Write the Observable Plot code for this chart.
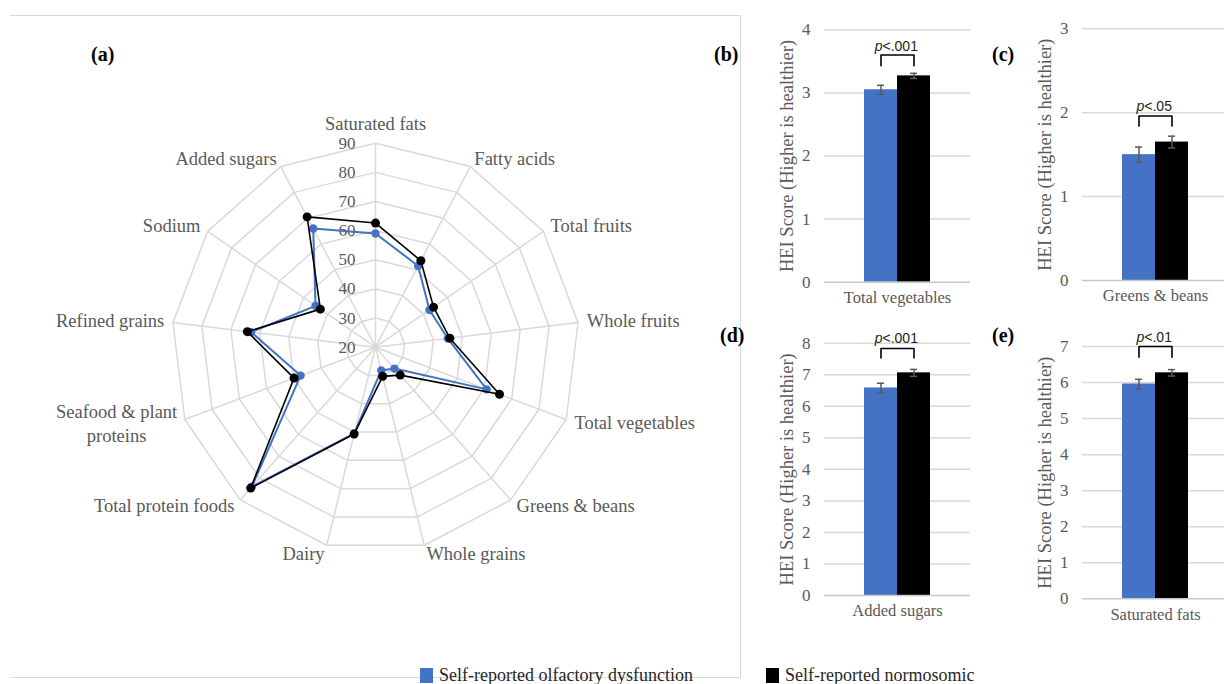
<!DOCTYPE html>
<html>
<head>
<meta charset="utf-8">
<script src="https://cdn.jsdelivr.net/npm/d3@7"></script>
<script src="https://cdn.jsdelivr.net/npm/@observablehq/plot@0.6"></script>
<style>
  html, body { margin: 0; padding: 0; background: #fff; overflow: hidden; }
  #root { position: relative; width: 1224px; height: 684px; overflow: hidden; font-family: "Liberation Serif", serif; }
  .abs { position: absolute; }
  .plabel { position: absolute; font-family: "Liberation Serif", serif; font-weight: bold; font-size: 20px; color: #000; line-height: 24px; }
  .legend { position: absolute; top: 664px; font-family: "Liberation Serif", serif; font-size: 18px; color: #262626; display: flex; align-items: center; white-space: nowrap; line-height: 22px; }
  .sw { display: inline-block; width: 13px; height: 15px; margin-right: 6px; }
  .frame { position: absolute; background: #d9d9d9; }
</style>
</head>
<body>
<div id="root"></div>
<script>
// ---------- Data ----------
const categories = ["Saturated fats", "Fatty acids", "Total fruits", "Whole fruits", "Total vegetables",
  "Greens & beans", "Whole grains", "Dairy", "Total protein foods", "Seafood & plant proteins",
  "Refined grains", "Sodium", "Added sugars"];
const dysfunctionScores = [59, 51.5, 42.5, 45, 60.8, 29.8, 28.2, 50.5, 84, 47.5, 63, 45, 66];
const normosomicScores  = [62.6, 53.5, 44.2, 45.7, 65.5, 32.8, 30.3, 50.7, 84.6, 49.9, 64.3, 43, 70.5];
const radarTicks = [20, 30, 40, 50, 60, 70, 80, 90];

const groups = ["Self-reported olfactory dysfunction", "Self-reported normosomic"];
const groupColors = ["#4472C4", "#000000"];

const barCategories = ["Total vegetables", "Greens & beans", "Added sugars", "Saturated fats"];
const barDysfunction = [3.05, 1.50, 6.58, 5.96];
const barNormosomic  = [3.27, 1.65, 7.06, 6.27];
const errDysfunction = [0.07, 0.09, 0.15, 0.13];
const errNormosomic  = [0.04, 0.07, 0.11, 0.09];
const barYMax = [4, 3, 8, 7];
const pLabels = ["<.001", "<.05", "<.001", "<.01"];
const bracketTop = [3.6, 1.96, 7.83, 7.0];
const bracketBottom = [3.43, 1.84, 7.53, 6.70];
const pTextY = [3.74, 2.07, 8.16, 7.26];
const panelLetters = ["(b)", "(c)", "(d)", "(e)"];
const yTitle = "HEI Score (Higher is healthier)";

const root = document.getElementById("root");
const GRAY = "#595959";
const GRID = "#d9d9d9";

// ---------- Frame lines of panel (a) ----------
function frameLine(l, t, w, h) {
  const d = document.createElement("div");
  d.className = "frame";
  Object.assign(d.style, {left: l + "px", top: t + "px", width: w + "px", height: h + "px"});
  root.appendChild(d);
}
frameLine(10, 15, 731, 1);
frameLine(740, 15, 1, 663);
frameLine(10, 677, 731, 1);

// ---------- Radar (a) ----------
const N = categories.length;
const k = 2.914; // px per unit
const cx = 375, cy = 346.7, RW = 740, RH = 640;
const ang = i => i * 2 * Math.PI / N;
const px = (v, i) => (v - 20) * Math.sin(ang(i));
const py = (v, i) => (v - 20) * Math.cos(ang(i));

const rings = [];
for (const t of radarTicks.slice(1)) {
  for (let i = 0; i <= N; i++) rings.push({t, x: px(t, i % N), y: py(t, i % N)});
}
const spokes = categories.map((c, i) => ({x2: px(90, i), y2: py(90, i)}));
const seriesPts = (vals, g) => vals.map((v, i) => ({g, cat: categories[i], x: px(v, i), y: py(v, i)}));
const bluePts = seriesPts(dysfunctionScores, groups[0]);
const blackPts = seriesPts(normosomicScores, groups[1]);
const labelR = 93;
const labels = categories.map((c, i) => ({
  text: c === "Seafood & plant proteins" ? "Seafood & plant\nproteins" : c,
  i, x: px(labelR, i), y: py(labelR, i)
}));

const radar = Plot.plot({
  width: RW, height: RH,
  marginTop: 0, marginRight: 0, marginBottom: 0, marginLeft: 0,
  x: {domain: [-cx / k, (RW - cx) / k], range: [0, RW], axis: null},
  y: {domain: [-(RH - cy) / k, cy / k], range: [RH, 0], axis: null},
  style: {fontFamily: "Liberation Serif, serif", fontSize: "18.5px", color: GRAY, background: "transparent", overflow: "visible"},
  marks: [
    Plot.line(rings, {x: "x", y: "y", z: "t", stroke: GRID, strokeWidth: 1.5}),
    Plot.link(spokes, {x1: 0, y1: 0, x2: "x2", y2: "y2", stroke: GRID, strokeWidth: 1.5}),
    Plot.text(radarTicks, {x: 0, y: d => d - 20, text: d => String(d), textAnchor: "end", dx: -20, fill: GRAY, fontSize: 17}),
    Plot.text(labels.filter(d => d.i === 0), {x: "x", y: "y", text: "text", textAnchor: "middle", lineAnchor: "bottom", dy: -4, fill: GRAY}),
    Plot.text(labels.filter(d => d.i > 0 && d.i < N / 2), {x: "x", y: "y", text: "text", textAnchor: "start", fill: GRAY}),
    Plot.text(labels.filter(d => d.i > N / 2 && d.text.indexOf("\n") < 0), {x: "x", y: "y", text: "text", textAnchor: "end", fill: GRAY}),
    Plot.text(labels.filter(d => d.text.indexOf("\n") >= 0), {x: "x", y: "y", text: "text", textAnchor: "middle", dx: -60, lineHeight: 1.25, fill: GRAY}),
    Plot.line(bluePts, {x: "x", y: "y", stroke: groupColors[0], strokeWidth: 2, curve: "linear-closed"}),
    Plot.dot(bluePts, {x: "x", y: "y", r: 4.2, fill: groupColors[0]}),
    Plot.line(blackPts, {x: "x", y: "y", stroke: groupColors[1], strokeWidth: 1.6, curve: "linear-closed"}),
    Plot.dot(blackPts, {x: "x", y: "y", r: 4.5, fill: groupColors[1]})
  ]
});
radar.classList.add("abs");
radar.style.left = "0px";
radar.style.top = "0px";
root.appendChild(radar);

// ---------- Bar panels (b)-(e) ----------
const panelPos = [
  {left: 745, top: 0, height: 320, mt: 29.3, mb: 38.3},
  {left: 1003, top: 0, height: 320, mt: 28.3, mb: 40},
  {left: 745, top: 320, height: 310, mt: 22.7, mb: 35},
  {left: 1003, top: 320, height: 310, mt: 26, mb: 31.7}
];
const letterPos = [
  {left: 714, top: 42}, {left: 992, top: 42}, {left: 720, top: 323}, {left: 992, top: 323}
];

barCategories.forEach((cat, p) => {
  const data = [
    {cat, g: groups[0], v: barDysfunction[p], e: errDysfunction[p]},
    {cat, g: groups[1], v: barNormosomic[p], e: errNormosomic[p]}
  ];
  const bracket = [
    {cat, g: groups[0], y: bracketBottom[p]},
    {cat, g: groups[0], y: bracketTop[p]},
    {cat, g: groups[1], y: bracketTop[p]},
    {cat, g: groups[1], y: bracketBottom[p]}
  ];
  const pos = panelPos[p];
  const W = 230;
  const tickVals = d3.range(0, barYMax[p] + 1);
  const pdx = -(pLabels[p].length * 7.6 + 8) / 2 + 8;
  const chart = Plot.plot({
    width: W, height: pos.height,
    marginLeft: 79, marginRight: 5, marginTop: pos.mt, marginBottom: pos.mb,
    style: {fontFamily: "Liberation Serif, serif", fontSize: "17px", color: GRAY, background: "transparent", overflow: "visible"},
    fx: {domain: [cat], padding: 0, label: null},
    x: {domain: groups, paddingInner: 0, paddingOuter: 1.18, axis: null},
    y: {domain: [0, barYMax[p]], label: null},
    color: {domain: groups, range: groupColors},
    marks: [
      Plot.gridY(tickVals.slice(1), {stroke: GRID, strokeOpacity: 1, strokeWidth: 1.5}),
      Plot.axisY(tickVals, {tickSize: 0, tickPadding: 14, label: null, fill: GRAY, tickFormat: d => String(d)}),
      Plot.axisFx({anchor: "bottom", tickSize: 0, tickPadding: 9, label: null, fill: GRAY, fontSize: 16.5}),
      Plot.barY(data, {fx: "cat", x: "g", y: "v", fill: "g"}),
      Plot.ruleY([0], {stroke: "#c8c8c8", strokeWidth: 1.5}),
      Plot.ruleX(data, {fx: "cat", x: "g", y1: d => d.v - d.e, y2: d => d.v + d.e, stroke: GRAY, strokeWidth: 1.5}),
      Plot.tickY(data, {fx: "cat", x: "g", y: d => d.v - d.e, stroke: GRAY, strokeWidth: 1.5, insetLeft: 13, insetRight: 13}),
      Plot.tickY(data, {fx: "cat", x: "g", y: d => d.v + d.e, stroke: GRAY, strokeWidth: 1.5, insetLeft: 13, insetRight: 13}),
      Plot.line(bracket, {fx: "cat", x: "g", y: "y", stroke: "#000", strokeWidth: 1.6}),
      Plot.text([cat], {fx: d => d, y: pTextY[p], text: () => "p", textAnchor: "end", dx: pdx, fontStyle: "italic", fontFamily: "Liberation Sans, sans-serif", fontSize: 14, fill: "#222"}),
      Plot.text([cat], {fx: d => d, y: pTextY[p], text: () => pLabels[p], textAnchor: "start", dx: pdx, fontFamily: "Liberation Sans, sans-serif", fontSize: 14, fill: "#222"}),
      Plot.text([cat], {fx: d => d, frameAnchor: "left", text: () => yTitle, rotate: -90, dx: -37, textAnchor: "middle", fontSize: 18.5, fill: GRAY})
    ]
  });
  chart.classList.add("abs");
  chart.style.left = pos.left + "px";
  chart.style.top = pos.top + "px";
  root.appendChild(chart);

  const lab = document.createElement("div");
  lab.className = "plabel";
  lab.textContent = panelLetters[p];
  lab.style.left = letterPos[p].left + "px";
  lab.style.top = letterPos[p].top + "px";
  root.appendChild(lab);
});

// panel (a) letter
const la = document.createElement("div");
la.className = "plabel";
la.textContent = "(a)";
la.style.left = "91px";
la.style.top = "42px";
root.appendChild(la);

// ---------- Legend ----------
[[groups[0], groupColors[0], 420], [groups[1], groupColors[1], 766]].forEach(([name, col, left]) => {
  const d = document.createElement("div");
  d.className = "legend";
  d.style.left = left + "px";
  const s = document.createElement("span");
  s.className = "sw";
  s.style.background = col;
  d.appendChild(s);
  d.appendChild(document.createTextNode(name));
  root.appendChild(d);
});
</script>
</body>
</html>
